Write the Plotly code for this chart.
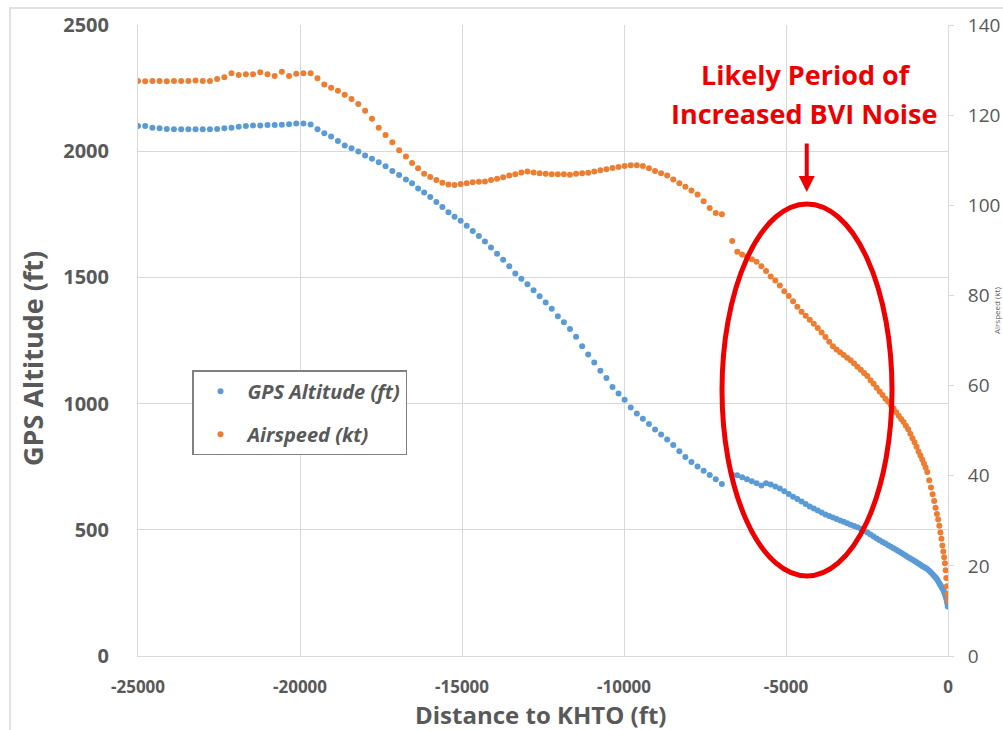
import plotly.graph_objects as go

# Approach track to KHTO: distance to runway, GPS altitude and airspeed per sample
distance_ft = [
    -25000, -24778, -24556, -24334, -24112, -23890, -23668, -23446, -23224, -23002,
    -22780, -22558, -22336, -22114, -21892, -21670, -21448, -21226, -21004, -20782,
    -20560, -20338, -20116, -19894, -19672,
    -19460, -19250, -19040, -18830, -18620, -18410, -18200, -17990, -17780, -17570,
    -17360, -17150, -16940,
    -16730, -16542, -16355, -16168, -15980, -15792, -15605, -15418, -15230, -15042,
    -14855, -14668, -14480, -14292, -14105, -13918, -13730, -13542, -13355, -13168,
    -12980, -12792, -12605, -12418, -12230, -12042, -11855, -11668, -11480, -11292,
    -11105, -10918, -10730, -10542, -10355, -10168, -9980, -9792, -9605, -9418,
    -9230, -9042, -8855, -8668, -8480, -8292, -8105, -7918, -7730, -7542,
    -7355, -7168, -6980,
    -6660, -6505, -6355, -6205, -6056, -5908, -5760, -5615, -5472, -5330,
    -5190, -5052, -4916, -4782, -4650, -4520, -4392, -4266, -4142, -4020,
    -3900, -3782, -3666, -3552, -3440, -3330, -3220, -3112, -3005, -2899,
    -2795, -2692, -2590, -2490, -2392, -2296, -2202, -2110, -2020, -1932,
    -1846, -1762, -1680, -1600, -1522, -1446, -1372, -1300, -1230, -1162,
    -1096, -1032, -970, -910, -852, -796, -742, -690, -640, -580,
    -525, -474, -427, -383, -342, -304, -268, -234, -202, -172,
    -144, -118, -94, -72, -52, -35, -20, -8,
]

gps_altitude_ft = [
    2100, 2100, 2093, 2091, 2088, 2087, 2087, 2087, 2087, 2087,
    2087, 2088, 2091, 2093, 2097, 2100, 2102, 2102, 2104, 2104,
    2105, 2107, 2110, 2110, 2106,
    2087, 2071, 2058, 2040, 2023, 2012, 1999, 1983, 1970, 1956,
    1940, 1922, 1906,
    1888, 1873, 1852, 1836, 1819, 1799, 1779, 1758, 1740, 1724,
    1705, 1684, 1664, 1642, 1618, 1594, 1570, 1544, 1515, 1495,
    1473, 1449, 1425, 1401, 1376, 1346, 1322, 1296, 1265, 1227,
    1195, 1163, 1130, 1101, 1066, 1040, 1015, 985, 961, 940,
    919, 897, 878, 858, 836, 811, 788, 769, 751, 734,
    717, 700, 681,
    718, 716, 708, 700, 692, 684, 676, 684, 679, 672,
    664, 653, 642, 631, 622, 612, 602, 592, 584, 576,
    569, 561, 555, 549, 543, 537, 532, 526, 520, 515,
    510, 504, 496, 489, 481, 473, 466, 459, 452, 446,
    439, 433, 427, 421, 415, 409, 403, 397, 391, 386,
    381, 376, 371, 366, 362, 357, 353, 349, 345, 338,
    331, 324, 317, 311, 304, 296, 288, 281, 274, 267,
    261, 253, 245, 236, 227, 218, 208, 196,
]

airspeed_kt = [
    127.6, 127.5, 127.6, 127.6, 127.5, 127.6, 127.6, 127.6, 127.7, 127.6,
    127.6, 128.0, 128.4, 129.3, 128.9, 129.1, 129.1, 129.5, 129.1, 128.7,
    129.6, 128.7, 129.2, 129.3, 129.3,
    128.2, 126.8, 126.1, 125.4, 124.5, 123.6, 122.5, 121.0, 119.2, 117.2,
    115.6, 114.0, 112.2,
    110.8, 109.4, 108.2, 107.0, 106.3, 105.6, 105.0, 104.6, 104.5, 104.7,
    104.9, 105.1, 105.2, 105.3, 105.6, 105.9, 106.2, 106.6, 106.9, 107.3,
    107.5, 107.3, 107.1, 107.0, 106.9, 106.9, 106.9, 106.8, 107.0, 107.1,
    107.2, 107.5, 107.8, 108.0, 108.3, 108.5, 108.7, 108.9, 108.9, 108.7,
    108.2, 107.6, 107.1, 106.6, 105.7, 104.9, 104.1, 103.3, 102.4, 100.9,
    99.4, 98.3, 98.0,
    92.1, 89.7, 89.1, 88.6, 88.0, 87.5, 86.5, 85.4, 84.2, 83.3,
    82.2, 80.9, 79.9, 78.7, 77.5, 76.4, 75.5, 74.6, 73.7, 72.8,
    71.8, 70.8, 69.7, 68.7, 68.0, 67.4, 66.8, 66.2, 65.6, 64.9,
    64.2, 63.5, 62.8, 62.1, 61.2, 60.4, 59.5, 58.7, 57.9, 57.1,
    56.4, 55.7, 54.9, 54.1, 53.3, 52.6, 51.9, 51.1, 50.3, 49.3,
    48.3, 47.4, 46.4, 45.4, 44.5, 43.6, 42.7, 41.8, 40.8, 39.0,
    37.4, 35.9, 34.4, 32.9, 31.5, 30.3, 28.9, 27.4, 26.0, 24.5,
    23.2, 21.9, 20.6, 19.0, 17.3, 15.5, 13.8, 12.4,
]

x_tick_vals = [-25000, -20000, -15000, -10000, -5000, 0]
x_tick_text = ["-25000", "-20000", "-15000", "-10000", "-5000", "0"]
alt_tick_vals = [0, 500, 1000, 1500, 2000, 2500]
alt_tick_text = ["0", "500", "1000", "1500", "2000", "2500"]
spd_tick_vals = [0, 20, 40, 60, 80, 100, 120, 140]
spd_tick_text = ["0", "20", "40", "60", "80", "100", "120", "140"]

# Highlighted window of the approach (distance ft, altitude ft)
bvi_window_x = [-6975, -1728]
bvi_window_y = [317, 1791]
bvi_arrow_x = -4360
bvi_arrow_tip_y = 1838

BLUE = "#5b9bd5"
ORANGE = "#ed7d31"
GRID = "#d9d9d9"
TEXT = "#595959"
RED = "#ee0000"

fig = go.Figure()
fig.add_trace(go.Scatter(
    x=distance_ft, y=gps_altitude_ft, mode="markers", name="GPS Altitude (ft)",
    legendgroup="alt", marker=dict(size=6, color=BLUE), yaxis="y",
))
fig.add_trace(go.Scatter(
    x=distance_ft, y=airspeed_kt, mode="markers", name="Airspeed (kt)",
    legendgroup="spd", marker=dict(size=6, color=ORANGE), yaxis="y2",
))

fig.update_layout(
    width=1003, height=730,
    margin=dict(l=138, r=55, t=25, b=74, autoexpand=False),
    paper_bgcolor="white", plot_bgcolor="white",
    showlegend=True,
    legend=dict(
        x=0.0667, y=0.453, xanchor="left", yanchor="top",
        bgcolor="white", bordercolor="#808080", borderwidth=1.5,
        font=dict(family="Open Sans", size=20, color=TEXT, weight="bold", style="italic"),
        tracegroupgap=14, itemwidth=44,
    ),
    xaxis=dict(
        range=[-25000, 0], tickvals=x_tick_vals, ticktext=x_tick_text,
        showgrid=True, gridcolor=GRID, gridwidth=1, zeroline=False,
        showline=True, linecolor=GRID, linewidth=1, ticks="",
        tickfont=dict(family="Open Sans", size=17, color=TEXT, weight="bold"),
        ticklabelstandoff=16,
    ),
    yaxis=dict(
        range=[0, 2500], tickvals=alt_tick_vals, ticktext=alt_tick_text,
        showgrid=True, gridcolor=GRID, gridwidth=1, zeroline=False,
        showline=True, linecolor=GRID, linewidth=1, ticks="",
        tickfont=dict(family="Open Sans", size=20, color=TEXT, weight="bold"),
        ticklabelstandoff=24,
    ),
    yaxis2=dict(
        range=[0, 140], tickvals=spd_tick_vals, ticktext=spd_tick_text,
        overlaying="y", side="right", showgrid=False, zeroline=False,
        showline=True, linecolor=GRID, linewidth=1,
        ticks="outside", ticklen=5, tickcolor=GRID,
        tickfont=dict(family="Open Sans", size=19, color=TEXT),
        ticklabelstandoff=10,
    ),
)

# Outer chart frame
fig.add_shape(type="rect", xref="paper", yref="paper",
              x0=-0.158, x1=1.08, y0=-0.13, y1=1.027,
              line=dict(color=GRID, width=1.5), layer="below")

# BVI window ellipse
fig.add_shape(type="circle", xref="x", yref="y",
              x0=bvi_window_x[0], x1=bvi_window_x[1],
              y0=bvi_window_y[0], y1=bvi_window_y[1],
              line=dict(color=RED, width=5))

# Axis titles
fig.add_annotation(text="Distance to KHTO (ft)", xref="paper", yref="paper",
                   x=0.4975, y=-0.0935, xanchor="center", yanchor="middle", showarrow=False,
                   font=dict(family="Open Sans", size=24, color=TEXT, weight="bold"))
fig.add_annotation(text="GPS Altitude (ft)", xref="paper", yref="paper",
                   x=-0.1296, y=0.4707, xanchor="center", yanchor="middle",
                   textangle=-90, showarrow=False,
                   font=dict(family="Open Sans", size=27, color=TEXT, weight="bold"))
fig.add_annotation(text="Airspeed (kt)", xref="paper", yref="paper",
                   x=1.059, y=0.548, xanchor="center", yanchor="middle",
                   textangle=-90, showarrow=False,
                   font=dict(family="Open Sans", size=8, color=TEXT))

# Callout text and arrow
fig.add_annotation(text="Likely Period of", xref="paper", yref="paper",
                   x=0.8247, y=0.9208, xanchor="center", yanchor="middle", showarrow=False,
                   font=dict(family="Open Sans", size=27, color=RED, weight="bold"))
fig.add_annotation(text="Increased BVI Noise", xref="paper", yref="paper",
                   x=0.8225, y=0.8605, xanchor="center", yanchor="middle", showarrow=False,
                   font=dict(family="Open Sans", size=27, color=RED, weight="bold"))
fig.add_annotation(text="", x=bvi_arrow_x, y=bvi_arrow_tip_y, xref="x", yref="y",
                   showarrow=True, ax=0, ay=-50, arrowhead=2, arrowsize=0.8,
                   arrowwidth=4, arrowcolor=RED, standoff=0)

fig.write_html("out.html")
